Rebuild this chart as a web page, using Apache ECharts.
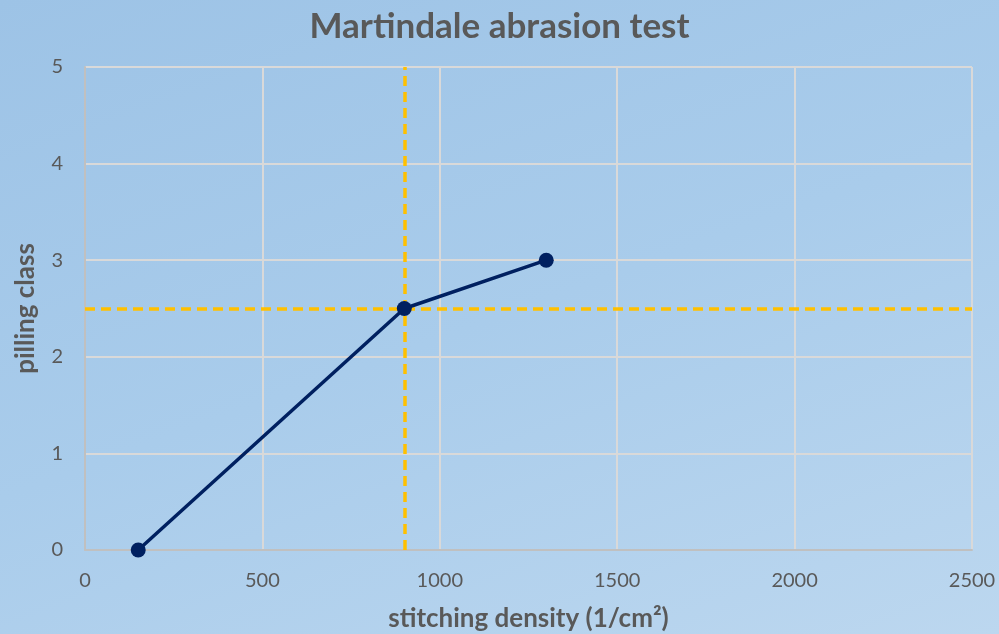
<!DOCTYPE html>
<html><head><meta charset="utf-8">
<script src="https://cdn.jsdelivr.net/npm/echarts@6/dist/echarts.min.js"></script>
<style>html,body{margin:0;padding:0;}#c{width:999px;height:634px;background:linear-gradient(160deg,#9dc3e6 0%,#a9cceb 50%,#bcd7ef 100%);}</style>
</head><body><div id="c"></div>
<script>
const density = [150, 900, 1300];
const pilling = [0, 2.5, 3];
const refX = 900;
const refY = 2.5;
const xTicks = [0, 500, 1000, 1500, 2000, 2500];
const yTicks = [0, 1, 2, 3, 4, 5];

const chart = echarts.init(document.getElementById('c'));
const font = 'Lato, "Open Sans", sans-serif';
chart.setOption({
  backgroundColor: 'transparent',
  title: { text: 'Martindale abrasion test', left: 'center', top: 4,
    textStyle: { fontFamily: font, fontSize: 35, fontWeight: 'bold', color: '#595959' } },
  grid: { left: 85, right: 27, top: 67, bottom: 84, containLabel: false, outerBoundsMode: 'none' },
  xAxis: { type: 'value', min: xTicks[0], max: xTicks[xTicks.length-1], interval: 500,
    name: 'stitching density (1/cm²)', nameLocation: 'middle', nameGap: 56,
    nameTextStyle: { fontFamily: font, fontSize: 26, fontWeight: 'bold', color: '#595959' },
    axisLine: { show: true, lineStyle: { color: '#c0c0c0', width: 2 } },
    axisTick: { show: false },
    axisLabel: { fontFamily: font, fontSize: 20, color: '#595959', margin: 21, formatter: v => String(v) },
    splitLine: { show: true, lineStyle: { color: '#d9d9d9', width: 2 } } },
  yAxis: { type: 'value', min: yTicks[0], max: yTicks[yTicks.length-1], interval: 1,
    name: 'pilling class', nameLocation: 'middle', nameGap: 46,
    nameTextStyle: { fontFamily: font, fontSize: 26, fontWeight: 'bold', color: '#595959' },
    axisLine: { show: true, lineStyle: { color: '#c0c0c0', width: 2 } },
    axisTick: { show: false },
    axisLabel: { fontFamily: font, fontSize: 20, color: '#595959', margin: 22 },
    splitLine: { show: true, lineStyle: { color: '#d9d9d9', width: 2 } } },
  series: [{
    type: 'line',
    data: density.map((d, i) => [d, pilling[i]]),
    symbol: 'circle', symbolSize: 15,
    lineStyle: { color: '#002060', width: 3.5 },
    itemStyle: { color: '#002060' },
    z: 5,
    markLine: {
      silent: true, symbol: 'none', label: { show: false },
      lineStyle: { color: '#FFC000', width: 3.5, type: [10, 6] },
      data: [{ xAxis: refX }, { yAxis: refY }]
    }
  }]
});
</script></body></html>
